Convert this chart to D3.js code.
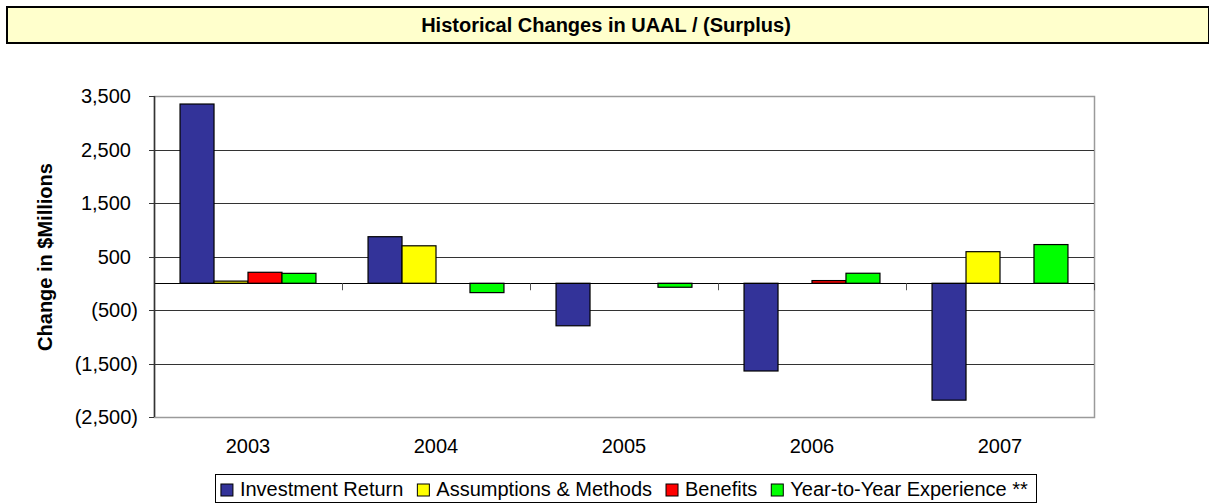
<!DOCTYPE html>
<html>
<head>
<meta charset="utf-8">
<script src="https://cdn.jsdelivr.net/npm/d3@7"></script>
<style>
  body { margin: 0; background: #fff; }
  svg { display: block; font-family: "Liberation Sans", Arial, sans-serif; }
</style>
</head>
<body>
<div id="chart"></div>
<script>
// chart data
var years = ["2003", "2004", "2005", "2006", "2007"];
var seriesNames = ["Investment Return", "Assumptions & Methods", "Benefits", "Year-to-Year Experience **"];
var seriesColors = ["#333399", "#FFFF00", "#FF0000", "#00FF00"];
var investmentReturn = [3350, 870, -795, -1640, -2185];
var assumptionsMethods = [40, 700, 0, 0, 590];
var benefits = [205, 0, 0, 50, 0];
var yearToYear = [185, -175, -75, 187, 723];
var yTicks = [3500, 2500, 1500, 500, -500, -1500, -2500];

var seriesValues = [investmentReturn, assumptionsMethods, benefits, yearToYear];

var width = 1209, height = 503;
var plot = { left: 154, right: 1094, top: 96, bottom: 417 };

var svg = d3.select("#chart").append("svg")
	.attr("width", width)
	.attr("height", height);

// title bar
svg.append("rect")
	.attr("x", 7).attr("y", 7)
	.attr("width", width - 7).attr("height", 36)
	.attr("fill", "#FFFFCC")
	.attr("stroke", "#000")
	.attr("stroke-width", 2);

svg.append("text")
	.attr("x", 606).attr("y", 32)
	.attr("text-anchor", "middle")
	.attr("font-size", 20)
	.attr("font-weight", "bold")
	.text("Historical Changes in UAAL / (Surplus)");

var x0 = d3.scaleBand()
	.domain(years)
	.range([plot.left, plot.right])
	.paddingInner(0.277)
	.paddingOuter(0.1385);

var x1 = d3.scaleBand()
	.domain(d3.range(seriesNames.length))
	.range([0, x0.bandwidth()]);

var y = d3.scaleLinear()
	.domain([-2500, 3500])
	.range([plot.bottom, plot.top]);

var px = function(v) { return Math.round(v) + 0.5; };

// plot frame (gray top/right/bottom)
svg.append("rect")
	.attr("x", px(plot.left)).attr("y", px(plot.top))
	.attr("width", plot.right - plot.left).attr("height", plot.bottom - plot.top)
	.attr("fill", "none")
	.attr("stroke", "#9a9a9a")
	.attr("stroke-width", 1.5);

// gridlines
svg.append("g").selectAll("line")
	.data(yTicks.filter(function(d) { return d !== 3500 && d !== -2500; }))
	.join("line")
	.attr("x1", plot.left).attr("x2", plot.right)
	.attr("y1", function(d) { return px(y(d)); })
	.attr("y2", function(d) { return px(y(d)); })
	.attr("stroke", "#333")
	.attr("stroke-width", 1);

// bars
var groups = svg.append("g").selectAll("g")
	.data(years)
	.join("g")
	.attr("transform", function(d) { return "translate(" + x0(d) + ",0)"; });

groups.selectAll("rect")
	.data(function(d, i) {
		return seriesValues.map(function(vals, s) { return { s: s, v: vals[i] }; });
	})
	.join("rect")
	.filter(function(d) { return d.v !== 0; })
	.attr("x", function(d) { return x1(d.s); })
	.attr("width", x1.bandwidth())
	.attr("y", function(d) { return y(Math.max(0, d.v)); })
	.attr("height", function(d) { return Math.abs(y(d.v) - y(0)); })
	.attr("fill", function(d) { return seriesColors[d.s]; })
	.attr("stroke", "#000")
	.attr("stroke-width", 1.2);

// zero line with category tick marks
svg.append("line")
	.attr("x1", plot.left).attr("x2", plot.right)
	.attr("y1", px(y(0))).attr("y2", px(y(0)))
	.attr("stroke", "#000");

svg.append("g").selectAll("line")
	.data(d3.range(years.length + 1))
	.join("line")
	.attr("x1", function(i) { return px(plot.left + i * x0.step()); })
	.attr("x2", function(i) { return px(plot.left + i * x0.step()); })
	.attr("y1", y(0)).attr("y2", y(0) + 7)
	.attr("stroke", "#555");

// y axis
var yAxis = svg.append("g");
yAxis.append("line")
	.attr("x1", px(plot.left)).attr("x2", px(plot.left))
	.attr("y1", plot.top).attr("y2", plot.bottom)
	.attr("stroke", "#333")
	.attr("stroke-width", 1.5);

yAxis.selectAll(".tick")
	.data(yTicks)
	.join("line")
	.attr("x1", plot.left - 5).attr("x2", plot.left)
	.attr("y1", function(d) { return px(y(d)); })
	.attr("y2", function(d) { return px(y(d)); })
	.attr("stroke", "#333");

var fmt = d3.format(",");
yAxis.selectAll("text")
	.data(yTicks)
	.join("text")
	.attr("x", function(d) { return d < 0 ? plot.left - 16 : plot.left - 23; })
	.attr("y", function(d) { return y(d) + 7; })
	.attr("text-anchor", "end")
	.attr("font-size", 20)
	.text(function(d) { return d < 0 ? "(" + fmt(-d) + ")" : fmt(d); });

svg.append("text")
	.attr("transform", "translate(52,257) rotate(-90)")
	.attr("text-anchor", "middle")
	.attr("font-size", 20)
	.attr("font-weight", "bold")
	.text("Change in $Millions");

// x labels
svg.append("g").selectAll("text")
	.data(years)
	.join("text")
	.attr("x", function(d) { return x0(d) + x0.bandwidth() / 2; })
	.attr("y", 453)
	.attr("text-anchor", "middle")
	.attr("font-size", 20)
	.text(function(d) { return d; });

// legend
var legendBox = svg.append("rect");
var legend = svg.append("g");
var lx = 0;
var items = legend.selectAll("g")
	.data(seriesNames)
	.join("g");

items.append("rect")
	.attr("width", 12).attr("height", 12)
	.attr("y", -12)
	.attr("fill", function(d, i) { return seriesColors[i]; })
	.attr("stroke", "#000");

items.append("text")
	.attr("x", 19)
	.attr("font-size", 20)
	.text(function(d) { return d; });

items.each(function() {
	var w = this.getBBox().width;
	d3.select(this).attr("transform", "translate(" + lx + ",0)");
	lx += w + 14;
});

var legendW = lx - 14 + 14;
var legendX = 626 - legendW / 2;
legend.attr("transform", "translate(" + (legendX + 5.5) + ",496)");

legendBox
	.attr("x", px(legendX)).attr("y", px(474))
	.attr("width", Math.round(legendW)).attr("height", 28)
	.attr("fill", "none")
	.attr("stroke", "#000");
</script>
</body>
</html>
